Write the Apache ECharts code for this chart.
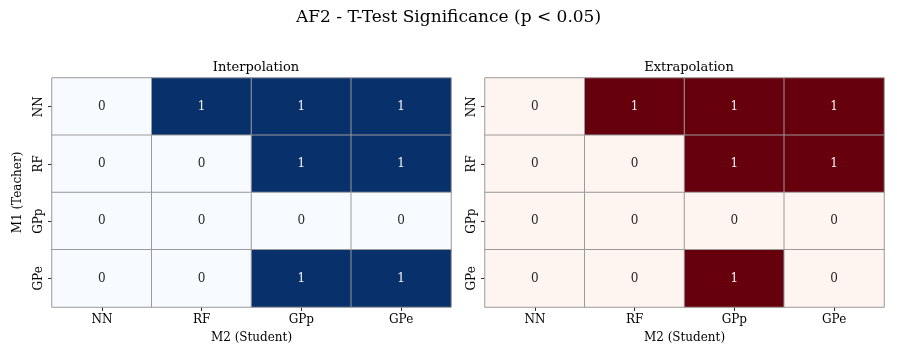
<!DOCTYPE html>
<html><head><meta charset="utf-8">
<script src="https://cdn.jsdelivr.net/npm/echarts@6/dist/echarts.min.js"></script>
<style>html,body{margin:0;padding:0;background:#fff}#c{width:897px;height:359px}</style>
</head><body><div id="c"></div>
<script>
const students = ['NN', 'RF', 'GPp', 'GPe'];
const teachers = ['NN', 'RF', 'GPp', 'GPe'];
const interpValues = [
  [0, 1, 1, 1],
  [0, 0, 1, 1],
  [0, 0, 0, 0],
  [0, 0, 1, 1]
];
const extrapValues = [
  [0, 1, 1, 1],
  [0, 0, 1, 1],
  [0, 0, 0, 0],
  [0, 0, 1, 0]
];
function toData(m) {
  const out = [];
  m.forEach((row, i) => row.forEach((v, j) => out.push([j, i, v])));
  return out;
}
const font = 'DejaVu Serif';
const chart = echarts.init(document.getElementById('c'), null, {renderer: 'canvas'});
const grids = [
  {left: 52, top: 78, width: 399, height: 229},
  {left: 485, top: 78, width: 399, height: 229}
];
function xAxis(i) {
  return {
    type: 'category', data: students, gridIndex: i,
    name: 'M2 (Student)', nameLocation: 'middle', nameGap: 25,
    nameTextStyle: {fontFamily: font, fontSize: 12, color: '#000'},
    axisLine: {show: false},
    axisTick: {show: true, alignWithLabel: true, length: 4, lineStyle: {color: '#333'}},
    axisLabel: {fontFamily: font, fontSize: 12, color: '#000', margin: 7},
    splitLine: {show: false}
  };
}
function yAxis(i) {
  return {
    type: 'category', data: teachers, gridIndex: i, inverse: true,
    name: i === 0 ? 'M1 (Teacher)' : '', nameLocation: 'middle', nameGap: 28,
    nameTextStyle: {fontFamily: font, fontSize: 12, color: '#000'},
    axisLine: {show: false},
    axisTick: {show: true, alignWithLabel: true, length: 4, lineStyle: {color: '#333'}},
    axisLabel: {fontFamily: font, fontSize: 12, color: '#000', rotate: 90, margin: 7},
    splitLine: {show: false}
  };
}
function series(i, vals) {
  return {
    type: 'heatmap', xAxisIndex: i, yAxisIndex: i,
    data: toData(vals).map(d => ({value: d, label: {color: d[2] === 1 ? '#f2f2f2' : '#262626'}})),
    itemStyle: {borderColor: '#9a9a9a', borderWidth: 1},
    label: {
      show: true, fontFamily: font, fontSize: 12,
      formatter: p => String(p.value[2])
    },
    emphasis: {disabled: true}
  };
}
chart.setOption({
  animation: false,
  title: [
    {text: 'AF2 - T-Test Significance (p < 0.05)', left: 'center', top: 4,
     textStyle: {fontFamily: font, fontSize: 17, fontWeight: 'normal', color: '#000'}},
    {text: 'Interpolation', left: 251, textAlign: 'center', top: 56,
     textStyle: {fontFamily: font, fontSize: 13, fontWeight: 'normal', color: '#000'}},
    {text: 'Extrapolation', left: 684, textAlign: 'center', top: 56,
     textStyle: {fontFamily: font, fontSize: 13, fontWeight: 'normal', color: '#000'}}
  ],
  grid: grids,
  xAxis: [xAxis(0), xAxis(1)],
  yAxis: [yAxis(0), yAxis(1)],
  visualMap: [
    {type: 'continuous', min: 0, max: 1, seriesIndex: 0, show: false, dimension: 2,
     inRange: {color: ['#f7fbff', '#08306b']}},
    {type: 'continuous', min: 0, max: 1, seriesIndex: 1, show: false, dimension: 2,
     inRange: {color: ['#fff5f0', '#67000d']}}
  ],
  series: [series(0, interpValues), series(1, extrapValues)]
});
</script></body></html>
